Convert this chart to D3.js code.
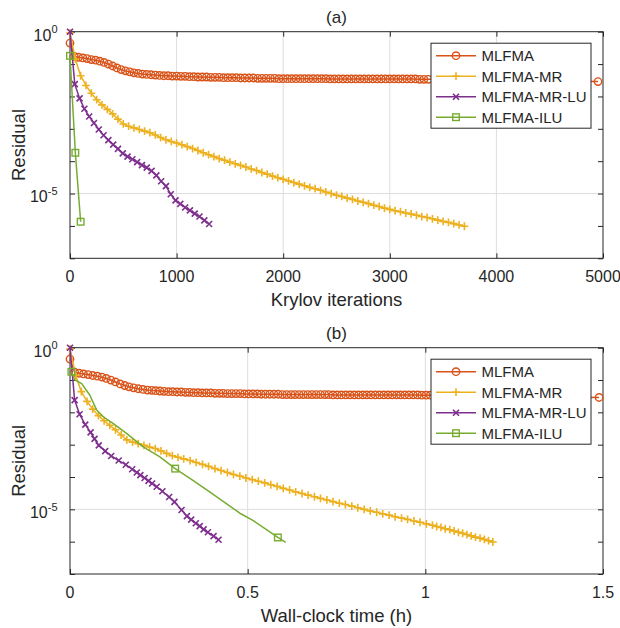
<!DOCTYPE html>
<html><head><meta charset="utf-8">
<script src="https://cdn.jsdelivr.net/npm/d3@7"></script>
<style>
body{margin:0;background:#fff}
text{font-family:"Liberation Sans",Arial,Helvetica,sans-serif;fill:#262626}
</style>
</head><body>
<svg id="c" width="620" height="628"></svg>
<script>
// ---------- DATA ----------
const seriesNames = ["MLFMA", "MLFMA-MR", "MLFMA-MR-LU", "MLFMA-ILU"];
const panelTitles = ["(a)", "(b)"];
const xLabels = ["Krylov iterations", "Wall-clock time (h)"];
const yLabel = "Residual";
const iterTicks = [0, 1000, 2000, 3000, 4000, 5000];
const timeTicks = [0, 0.5, 1, 1.5];
const timeTickLabels = ["0", "0.5", "1", "1.5"];
const decadeTicks = [0, -1, -2, -3, -4, -5, -6, -7];   // log10 of residual
const labeledDecades = [0, -5];

// MLFMA (log10 residual)
const mlfmaIter = [0,40,80,120,160,200,240,280,320,360,400,440,480,520,560,600,640,680,720,760,800,840,880,920,960,1000,1040,1080,1120,1160,1200,1240,1280,1320,1360,1400,1440,1480,1520,1560,1600,1640,1680,1720,1760,1800,1840,1880,1920,1960,2000,2040,2080,2120,2160,2200,2240,2280,2320,2360,2400,2440,2480,2520,2560,2600,2640,2680,2720,2760,2800,2840,2880,2920,2960,3000,3040,3080,3120,3160,3200,3240,3280,3320,3360,4953];
const mlfmaTime = [0,0.013,0.026,0.038,0.051,0.064,0.077,0.090,0.102,0.115,
0.128,0.141,0.154,0.166,0.179,0.192,0.205,0.218,0.230,0.241,
0.253,0.265,0.277,0.289,0.301,0.313,0.325,0.336,0.348,0.360,
0.372,0.384,0.396,0.408,0.420,0.431,0.443,0.455,0.467,0.479,
0.491,0.503,0.515,0.527,0.538,0.550,0.562,0.574,0.586,0.598,
0.610,0.622,0.633,0.645,0.657,0.669,0.681,0.693,0.705,0.717,
0.728,0.740,0.752,0.764,0.776,0.788,0.800,0.812,0.824,0.835,
0.847,0.859,0.871,0.883,0.895,0.907,0.919,0.930,0.942,0.954,
0.966,0.978,0.990,1.002,1.014,1.489];
const mlfmaLogRes = [-0.35,-0.76,-0.79,-0.81,-0.83,-0.86,-0.88,-0.91,-0.95,-1.00,
-1.06,-1.12,-1.17,-1.21,-1.24,-1.27,-1.29,-1.31,-1.32,-1.33,
-1.34,-1.35,-1.36,-1.36,-1.37,-1.37,-1.38,-1.38,-1.39,-1.39,
-1.40,-1.40,-1.40,-1.41,-1.41,-1.41,-1.42,-1.42,-1.42,-1.42,
-1.43,-1.43,-1.43,-1.43,-1.44,-1.44,-1.44,-1.44,-1.44,-1.45,
-1.45,-1.45,-1.45,-1.45,-1.45,-1.45,-1.45,-1.45,-1.45,-1.45,
-1.45,-1.46,-1.46,-1.46,-1.46,-1.46,-1.46,-1.46,-1.46,-1.46,
-1.46,-1.46,-1.46,-1.46,-1.46,-1.46,-1.46,-1.46,-1.46,-1.46,
-1.46,-1.46,-1.47,-1.47,-1.47,-1.54];

// MLFMA-MR
const mrIter = [0,50,100,150,200,250,300,350,400,450,500,550,600,650,700,750,800,850,900,950,1000,1050,1100,1150,1200,1250,1300,1350,1400,1450,1500,1550,1600,1650,1700,1750,1800,1850,1900,1950,2000,2050,2100,2150,2200,2250,2300,2350,2400,2450,2500,2550,2600,2650,2700,2750,2800,2850,2900,2950,3000,3050,3100,3150,3200,3250,3300,3350,3400,3450,3500,3550,3600,3650,3700];
const mrTime = [0,0.016,0.032,0.048,0.064,0.080,0.096,0.112,0.128,0.144,
0.160,0.176,0.192,0.208,0.224,0.240,0.256,0.272,0.288,0.304,
0.320,0.338,0.355,0.373,0.390,0.408,0.425,0.443,0.460,0.478,
0.495,0.513,0.530,0.548,0.565,0.583,0.600,0.618,0.635,0.653,
0.670,0.688,0.705,0.723,0.740,0.758,0.775,0.793,0.810,0.828,
0.845,0.863,0.880,0.898,0.915,0.933,0.950,0.968,0.985,1.003,
1.020,1.032,1.044,1.056,1.069,1.081,1.093,1.105,1.117,1.129,
1.141,1.154,1.166,1.178,1.190];
const mrLogRes = [-0.04,-0.85,-1.36,-1.66,-1.90,-2.10,-2.26,-2.40,-2.54,-2.70,
-2.85,-2.92,-2.97,-3.02,-3.07,-3.12,-3.19,-3.27,-3.34,-3.39,
-3.44,-3.49,-3.55,-3.61,-3.67,-3.74,-3.80,-3.86,-3.92,-3.97,
-4.03,-4.08,-4.13,-4.18,-4.24,-4.29,-4.35,-4.40,-4.46,-4.51,
-4.56,-4.61,-4.66,-4.71,-4.76,-4.81,-4.85,-4.90,-4.95,-5.00,
-5.05,-5.09,-5.14,-5.18,-5.23,-5.27,-5.31,-5.36,-5.40,-5.45,
-5.49,-5.53,-5.56,-5.60,-5.63,-5.67,-5.71,-5.74,-5.78,-5.82,
-5.86,-5.89,-5.93,-5.97,-6.01];

// MLFMA-MR-LU
const mrluIter = [0,45,90,135,180,225,270,315,360,405,450,495,540,585,630,675,720,765,810,855,900,945,990,1035,1080,1125,1170,1215,1260,1305];
const mrluTime = [0,0.013,0.027,0.043,0.058,0.069,0.081,0.099,0.116,0.137,0.157,0.175,0.188,0.198,0.210,0.221,0.231,0.244,0.260,0.279,0.294,0.314,0.329,0.341,0.354,0.365,0.376,0.388,0.404,0.418];
const mrluLogRes = [0,-1.62,-2.06,-2.38,-2.62,-2.82,-3.02,-3.20,-3.35,-3.49,-3.62,-3.76,-3.86,-3.94,-4.03,-4.12,-4.20,-4.30,-4.44,-4.62,-4.77,-5.02,-5.21,-5.32,-5.43,-5.52,-5.62,-5.71,-5.83,-5.94];

// MLFMA-ILU
const iluIter = [0, 50, 100];
const iluIterLogRes = [-0.745, -3.74, -5.87];
const iluTime = [0.004,0.014,0.033,0.056,0.075,0.094,0.122,0.160,0.206,0.253,0.296,0.347,0.394,0.441,0.478,0.516,0.585,0.607];
const iluTimeLogRes = [-0.745,-1.0,-1.11,-1.47,-1.93,-2.14,-2.35,-2.66,-3.07,-3.38,-3.74,-4.11,-4.47,-4.83,-5.12,-5.35,-5.87,-6.02];
const iluTimeMarkers = [0, 10, 16];

// ---------- STYLE ----------
const colors = ["#D95319", "#EDB120", "#7E2F8E", "#77AC30"];
const symbols = ["circle", "plus", "cross", "square"];
const axisColor = "#262626";
const gridColor = "#dedede";

const svg = d3.select("#c");
const L = 70, R = 603;
const panels = [
  { top: 31.7, bottom: 258.3, domain: [0, 5000], ticks: iterTicks, tickLabels: iterTicks.map(String),
    title: panelTitles[0], xlabel: xLabels[0],
    series: [
      { xs: mlfmaIter, ys: mlfmaLogRes, marks: null },
      { xs: mrIter, ys: mrLogRes, marks: null },
      { xs: mrluIter, ys: mrluLogRes, marks: null },
      { xs: iluIter, ys: iluIterLogRes, marks: null }
    ] },
  { top: 347.7, bottom: 574, domain: [0, 1.5], ticks: timeTicks, tickLabels: timeTickLabels,
    title: panelTitles[1], xlabel: xLabels[1],
    series: [
      { xs: mlfmaTime, ys: mlfmaLogRes, marks: null },
      { xs: mrTime, ys: mrLogRes, marks: null },
      { xs: mrluTime, ys: mrluLogRes, marks: null },
      { xs: iluTime, ys: iluTimeLogRes, marks: iluTimeMarkers }
    ] }
];

function drawMarker(g, type, cx, cy, color) {
  if (type === "circle") {
    g.append("circle").attr("cx", cx).attr("cy", cy).attr("r", 3.7)
      .attr("fill", "none").attr("stroke", color).attr("stroke-width", 1.4);
  } else if (type === "plus") {
    g.append("path").attr("d", `M${cx-3.9},${cy}H${cx+3.9}M${cx},${cy-3.9}V${cy+3.9}`)
      .attr("stroke", color).attr("stroke-width", 1.6).attr("fill", "none");
  } else if (type === "cross") {
    g.append("path").attr("d", `M${cx-3},${cy-3}L${cx+3},${cy+3}M${cx-3},${cy+3}L${cx+3},${cy-3}`)
      .attr("stroke", color).attr("stroke-width", 1.6).attr("fill", "none");
  } else if (type === "square") {
    g.append("rect").attr("x", cx-3.3).attr("y", cy-3.3).attr("width", 6.6).attr("height", 6.6)
      .attr("fill", "none").attr("stroke", color).attr("stroke-width", 1.4);
  }
}

panels.forEach((p) => {
  const x = d3.scaleLinear().domain(p.domain).range([L, R]);
  const y = d3.scaleLog().domain([1e-7, 1]).range([p.bottom, p.top]);
  const g = svg.append("g");

  // grid
  p.ticks.forEach(t => {
    const px = x(t);
    if (px > L + 1 && px < R - 1)
      g.append("line").attr("x1", px).attr("x2", px).attr("y1", p.top).attr("y2", p.bottom)
        .attr("stroke", gridColor).attr("stroke-width", 1);
  });
  labeledDecades.forEach(d => {
    const py = y(Math.pow(10, d));
    if (py > p.top + 1 && py < p.bottom - 1)
      g.append("line").attr("x1", L).attr("x2", R).attr("y1", py).attr("y2", py)
        .attr("stroke", gridColor).attr("stroke-width", 1);
  });

  // axes via d3
  const xb = d3.axisBottom(x).tickValues(p.ticks).tickSizeInner(-5).tickSizeOuter(0).tickFormat("");
  const xt = d3.axisTop(x).tickValues(p.ticks).tickSizeInner(-5).tickSizeOuter(0).tickFormat("");
  const yl = d3.axisLeft(y).tickValues(decadeTicks.map(d => Math.pow(10, d))).tickSizeInner(-5).tickSizeOuter(0).tickFormat("");
  const yr = d3.axisRight(y).tickValues(decadeTicks.map(d => Math.pow(10, d))).tickSizeInner(-5).tickSizeOuter(0).tickFormat("");
  [[xb, `translate(0,${p.bottom})`], [xt, `translate(0,${p.top})`], [yl, `translate(${L},0)`], [yr, `translate(${R},0)`]]
    .forEach(([ax, tr]) => {
      const a = g.append("g").attr("transform", tr).call(ax);
      a.selectAll("path,line").attr("stroke", axisColor).attr("stroke-width", 1);
      a.select(".domain").remove();
    });
  g.append("rect").attr("x", L).attr("y", p.top).attr("width", R - L).attr("height", p.bottom - p.top)
    .attr("fill", "none").attr("stroke", axisColor).attr("stroke-width", 1);

  // x tick labels
  p.ticks.forEach((t, i) => {
    g.append("text").attr("x", x(t)).attr("y", p.bottom + 24).attr("text-anchor", "middle")
      .attr("font-size", 16).text(p.tickLabels[i]);
  });
  // y tick labels
  labeledDecades.forEach(d => {
    const py = y(Math.pow(10, d));
    const t = g.append("text").attr("x", 57.5).attr("y", py + 8.8).attr("text-anchor", "end").attr("font-size", 16);
    t.append("tspan").text("10");
    t.append("tspan").attr("font-size", 11).attr("dy", -7.2).text(String(d));
  });
  // labels
  g.append("text").attr("x", (L + R) / 2).attr("y", p.bottom + 48).attr("text-anchor", "middle")
    .attr("font-size", 18.5).text(p.xlabel);
  g.append("text").attr("transform", `translate(24.5,${(p.top + p.bottom) / 2}) rotate(-90)`)
    .attr("text-anchor", "middle").attr("font-size", 18.5).text(yLabel);
  g.append("text").attr("x", (L + R) / 2).attr("y", p.top - 8.4).attr("text-anchor", "middle")
    .attr("font-size", 17).text(p.title);

  // series
  p.series.forEach((s, si) => {
    const pts = s.xs.map((v, i) => [x(v), y(Math.pow(10, s.ys[i]))]);
    g.append("path").attr("d", d3.line()(pts)).attr("fill", "none")
      .attr("stroke", colors[si]).attr("stroke-width", 1.5).attr("stroke-linejoin", "round");
    const idx = s.marks ? s.marks : pts.map((_, i) => i);
    const mg = g.append("g");
    idx.forEach(i => drawMarker(mg, symbols[si], pts[i][0], pts[i][1], colors[si]));
  });

  // legend
  const lx = 431, ly = p.top + 11.5, lw = 160, lh = 85;
  const lg = g.append("g");
  lg.append("rect").attr("x", lx).attr("y", ly).attr("width", lw).attr("height", lh)
    .attr("fill", "#fff").attr("stroke", axisColor).attr("stroke-width", 1);
  const rowOff = [12.5, 33, 53.5, 74];
  seriesNames.forEach((n, i) => {
    const ry = ly + rowOff[i];
    lg.append("line").attr("x1", lx + 5).attr("x2", lx + 45).attr("y1", ry).attr("y2", ry)
      .attr("stroke", colors[i]).attr("stroke-width", 1.5);
    drawMarker(lg, symbols[i], lx + 25, ry, colors[i]);
    lg.append("text").attr("x", lx + 50.5).attr("y", ry + 5.3).attr("font-size", 15).text(n);
  });
});
</script>
</body></html>
